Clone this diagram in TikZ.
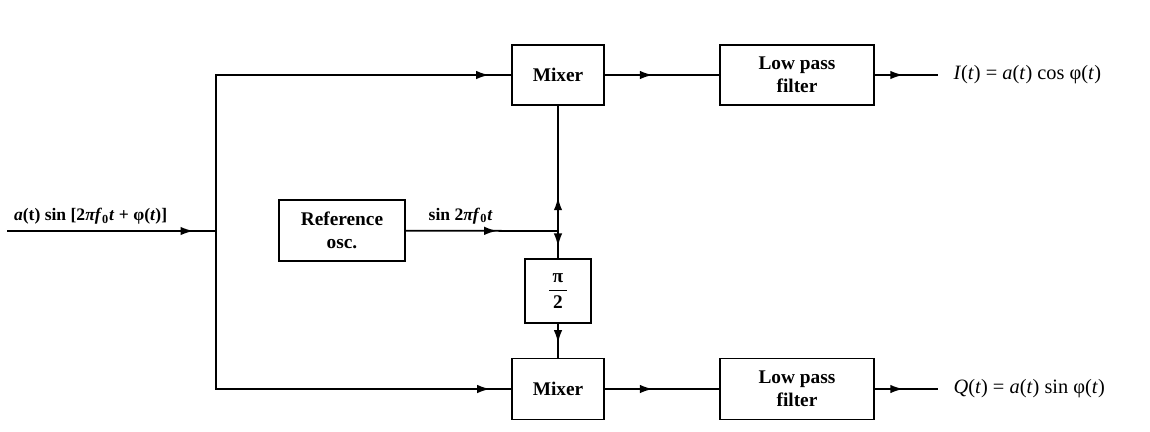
\documentclass[tikz,border=0pt]{standalone}
\usepackage{fontspec}
\setmainfont{Liberation Serif}
\usetikzlibrary{arrows.meta,decorations.markings}

\begin{document}
\begin{tikzpicture}[
  font=\fontsize{11}{13}\selectfont,
  line width=1pt,
  block/.style={draw, align=center, font=\fontsize{11}{13}\selectfont\bfseries, inner sep=2pt},
  arrowat/.style={postaction={decorate},
    decoration={markings, mark=at position #1 with {\arrow{Latex[length=2.6mm,width=1.7mm]}}}}
]
  \useasboundingbox (0,0) rectangle (23,-8.62);

  % blocks
  \node[block, minimum width=1.84cm, minimum height=1.20cm] (mixI) at (11.16,-1.50) {Mixer};
  \node[block, minimum width=3.08cm, minimum height=1.20cm] (lpfI) at (15.94,-1.50) {Low pass\\filter};
  \node[block, minimum width=2.52cm, minimum height=1.22cm] (ref) at (6.84,-4.61) {Reference\\osc.};
  \node[block, minimum width=1.32cm, minimum height=1.28cm] (shift) at (11.16,-5.82)
    {$\displaystyle\frac{\mbox{\,π\,}}{\mbox{2}}$};
  \node[block, minimum width=1.84cm, minimum height=1.22cm] (mixQ) at (11.16,-7.78) {Mixer};
  \node[block, minimum width=3.08cm, minimum height=1.22cm] (lpfQ) at (15.94,-7.78) {Low pass\\filter};

  % branch points and free ends
  \coordinate (in) at (0.14,-4.62);
  \coordinate (split) at (4.32,-4.62);
  \coordinate (junc) at (11.16,-4.62);
  \coordinate (outI) at (18.76,-1.50);
  \coordinate (outQ) at (18.76,-7.78);

  % signal path
  \draw[arrowat=-0.45cm] (in) -- node[above, pos=0.4, font=\bfseries] (inlab)
    {\textit{a}(t) sin [2\textit{πf}\textsubscript{0}\textit{t} + φ(\textit{t})]} (split);
  \draw[arrowat=-0.44cm] (split) |- (mixI);
  \draw[arrowat=-0.42cm] (split) |- (mixQ);
  \draw[arrowat=0.42] (mixI) -- (lpfI);
  \draw[arrowat=0.42] (mixQ) -- (lpfQ);
  \draw[arrowat=0.45] (lpfI) -- (outI) node[right=5pt, font=\fontsize{11.6}{13}\selectfont] (ilab)
    {\textit{I}(\textit{t}) = \textit{a}(\textit{t}) cos φ(\textit{t})};
  \draw[arrowat=0.45] (lpfQ) -- (outQ) node[right=5pt, font=\fontsize{11.6}{13}\selectfont] (qlab)
    {\textit{Q}(\textit{t}) = \textit{a}(\textit{t}) sin φ(\textit{t})};

  % local oscillator
  \draw[arrowat=0.6] (ref) -- node[above, pos=0.36, font=\bfseries] (osclab)
    {sin 2\textit{πf}\textsubscript{0}\textit{t}} (junc);
  \draw[arrowat=0.27] (junc) -- (mixI);
  \draw[arrowat=0.57] (junc) -- (shift);
  \draw[arrowat=0.57] (shift) -- (mixQ);
\end{tikzpicture}
\end{document}
